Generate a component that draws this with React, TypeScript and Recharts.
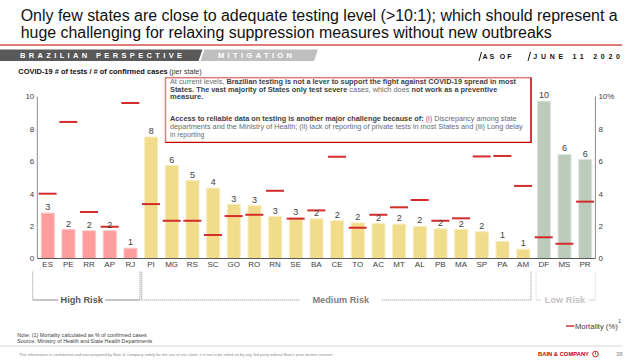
import React from "react";
import { ComposedChart, Bar, Line, XAxis, YAxis, Cell, LabelList } from "recharts";

const states = ["ES","PE","RR","AP","RJ","PI","MG","RS","SC","GO","RO","RN","SE","BA","CE","TO","AC","MT","AL","PB","MA","SP","PA","AM","DF","MS","PR"];
const testsPerCase = [2.8,1.79,1.71,1.71,0.64,7.5,5.74,4.81,4.34,3.33,3.27,2.59,2.5,2.45,2.33,2.2,2.16,2.12,1.98,1.83,1.79,1.65,1.05,0.57,9.71,6.42,6.11];
const mortality = [4.0,8.43,2.87,1.96,9.6,3.36,2.33,2.33,1.45,2.62,2.7,4.18,2.46,2.97,6.28,1.9,2.7,3.16,3.61,2.33,2.48,6.3,6.33,4.48,1.31,0.91,3.51];
const riskLevels = ["high","high","high","high","high","medium","medium","medium","medium","medium","medium","medium","medium","medium","medium","medium","medium","medium","medium","medium","medium","medium","medium","medium","low","low","low"];
const riskGroups = ["High Risk", "Medium Risk", "Low Risk"];
const leftTicks = [0, 2, 4, 6, 8, 10];
const rightTicks = [0, 2, 4, 6, 8, 10];

const riskFill: Record<string, string> = { high: "#ff9c9c", medium: "#f1dc8c", low: "#bccbbb" };
const riskStroke: Record<string, string> = { high: "#ffc4c4", medium: "#f8ecbc", low: "#dbe4da" };

const data = states.map((s, i) => ({ state: s, tests: testsPerCase[i], mortality: mortality[i], risk: riskLevels[i] }));

const FONT = "'Liberation Sans', Arial, Helvetica, sans-serif";

const boxLines: [string, boolean][][] = [
  [["At current levels, ", false], ["Brazilian testing is not a lever to support the fight against COVID-19 spread in most", true]],
  [["States. The vast majority of States only test severe", true], [" cases, which does ", false], ["not work as a preventive", true]],
  [["measure.", true]],
  [["Access to reliable data on testing is another major challenge because of:", true], [" (i) Discrepancy among state", false]],
  [["departments and the Ministry of Health; (ii) lack of reporting of private tests in most States and (iii) Long delay", false]],
  [["in reporting", false]],
];
const boxLineY = [83.5, 91.5, 99.3, 121.3, 129, 136.8];
const boxLineW = [346, 327.3, 33.3, 346.7, 352.7, 34.3];

const renderDash = (p: any) => {
  const { cx, cy, index } = p;
  if (cx == null || cy == null) return <g key={`d${index}`} />;
  return <line key={`d${index}`} x1={cx - 9} x2={cx + 9} y1={cy} y2={cy} stroke="#d42b2b" strokeWidth={2} />;
};

export default function App() {
  return (
    <div style={{ position: "absolute", left: 0, top: 0, width: 640, height: 360, background: "#fff", fontFamily: FONT }}>
      <ComposedChart
        width={640}
        height={360}
        data={data}
        margin={{ top: 96.5, right: 14.6, bottom: 86.5, left: 7.3 }}
        barSize={13}
      >
        <XAxis
          dataKey="state"
          interval={0}
          tickLine={false}
          tickSize={0}
          tickMargin={3}
          height={15}
          axisLine={{ stroke: "#595959" }}
          tick={{ fontSize: 8, fill: "#404040", fontFamily: FONT }}
        />
        <YAxis
          yAxisId="left"
          domain={[0, 10]}
          ticks={leftTicks}
          width={30}
          tickLine={false}
          tickSize={0}
          tickMargin={3}
          axisLine={{ stroke: "#8c8c8c" }}
          tick={{ fontSize: 8, fill: "#404040", fontFamily: FONT }}
        />
        <YAxis
          yAxisId="right"
          orientation="right"
          domain={[0, 10]}
          ticks={rightTicks}
          width={30}
          tickLine={false}
          tickSize={0}
          tickMargin={3}
          axisLine={{ stroke: "#8c8c8c" }}
          tickFormatter={(v: number) => (v === 10 ? "10%" : String(v))}
          tick={{ fontSize: 8, fill: "#404040", fontFamily: FONT }}
        />
        <Bar yAxisId="left" dataKey="tests" isAnimationActive={false}>
          {data.map((d, i) => (
            <Cell key={i} fill={riskFill[d.risk]} stroke={riskStroke[d.risk]} strokeWidth={1} />
          ))}
          <LabelList
            dataKey="tests"
            position="top"
            offset={3}
            formatter={(v: any) => Math.round(Number(v))}
            style={{ fontSize: 9, fill: "#404040", fontFamily: FONT }}
          />
        </Bar>
        <Line
          yAxisId="right"
          dataKey="mortality"
          stroke="none"
          dot={renderDash}
          activeDot={false}
          legendType="none"
          isAnimationActive={false}
        />
      </ComposedChart>

      <svg width={640} height={360} style={{ position: "absolute", left: 0, top: 0, pointerEvents: "none" }} fontFamily={FONT}>
        {/* Title */}
        <text x={20.7} y={20.7} fontSize={16} fill="#111" textLength={597} lengthAdjust="spacingAndGlyphs">
          Only few states are close to adequate testing level (&gt;10:1); which should represent a
        </text>
        <text x={20.7} y={37.9} fontSize={16} fill="#111" textLength={531} lengthAdjust="spacingAndGlyphs">
          huge challenging for relaxing suppression measures without new outbreaks
        </text>
        <line x1={0} x2={622} y1={45} y2={45} stroke="#e07b7b" strokeWidth={2} />

        {/* Banner */}
        <polygon points="0,49.5 202.5,49.5 198.5,61 0,61" fill="#595959" />
        <polygon points="204.5,49.5 318,49.5 314,61 200.5,61" fill="#bfbfbf" />
        <text x={20} y={58.4} fontSize={7.5} fontWeight="bold" fill="#fff" textLength={162}>BRAZILIAN PERSPECTIVE</text>
        <text x={218} y={58.4} fontSize={7.5} fontWeight="bold" fill="#fff" textLength={74}>MITIGATION</text>

        <line x1={481.5} y1={52} x2={479} y2={61} stroke="#111" strokeWidth={1} />
        <text x={482.5} y={58.6} fontSize={7} fontWeight="bold" fill="#111" textLength={29}>AS OF</text>
        <line x1={530.5} y1={52} x2={528} y2={61} stroke="#111" strokeWidth={1} />
        <text x={533.3} y={58.6} fontSize={7} fontWeight="bold" fill="#111" textLength={86.7}>JUNE 11 2020</text>

        {/* Subtitle */}
        <text x={18.3} y={73.6} fontSize={6.5} fontWeight="bold" fill="#111" textLength={149.4} lengthAdjust="spacingAndGlyphs">
          COVID-19 # of tests / # of confirmed cases
        </text>
        <text x={169.3} y={73.6} fontSize={6.5} fill="#333" textLength={32.4} lengthAdjust="spacingAndGlyphs">(per state)</text>

        {/* Annotation box */}
        <rect x={165.5} y={77.7} width={365.5} height={64.6} fill="#fff" stroke="#e07a7a" strokeWidth={1.5} />
        <line x1={531} y1={77.7} x2={531} y2={142.5} stroke="#c00000" strokeWidth={1.2} />
        <line x1={165.5} y1={142.5} x2={531.6} y2={142.5} stroke="#c00000" strokeWidth={1.2} />
        {boxLines.map((segs, li) => (
          <text key={li} x={170} y={boxLineY[li]} fontSize={6.8} fill="#6b6b6b" textLength={boxLineW[li]} lengthAdjust="spacingAndGlyphs">
            {segs.map(([t, b], si) => (
              <tspan key={si} fontWeight={b ? "bold" : "normal"} fill={b ? "#3f3f3f" : "#6b6b6b"}>{t}</tspan>
            ))}
          </text>
        ))}

        {/* Risk brackets */}
        <g stroke="#8c8c8c" strokeWidth={1} fill="none">
          <line x1={32.7} x2={32.7} y1={271.7} y2={300} strokeDasharray="1 1" />
          <line x1={32.7} x2={58} y1={300} y2={300} />
          <line x1={105} x2={140} y1={300} y2={300} />
          <line x1={140} x2={140} y1={271.7} y2={300} strokeDasharray="1 1" />
          <line x1={141.7} x2={141.7} y1={271.7} y2={300} strokeDasharray="1 1" />
          <line x1={141.7} x2={300} y1={300} y2={300} strokeDasharray="1 1" />
          <line x1={381.7} x2={531} y1={300} y2={300} strokeDasharray="1 1" />
          <line x1={531} x2={531} y1={271.7} y2={300} strokeDasharray="1 1" />
        </g>
        <g stroke="#cfcfcf" strokeWidth={1} fill="none">
          <line x1={536} x2={536} y1={271.7} y2={300} strokeDasharray="1 1" />
          <line x1={536} x2={541} y1={300} y2={300} />
          <line x1={588.7} x2={595.3} y1={300} y2={300} />
          <line x1={595.3} x2={595.3} y1={271.7} y2={300} strokeDasharray="1 1" />
        </g>
        <text x={81.7} y={302.8} fontSize={9.2} fontWeight="bold" fill="#595959" textAnchor="middle">{riskGroups[0]}</text>
        <text x={340.8} y={302.8} fontSize={9.2} fontWeight="bold" fill="#7f7f7f" textAnchor="middle">{riskGroups[1]}</text>
        <text x={565} y={302.8} fontSize={9.2} fontWeight="bold" fill="#c4c4c4" textAnchor="middle">{riskGroups[2]}</text>

        {/* Legend */}
        <line x1={566} x2={574.3} y1={326} y2={326} stroke="#e06a6a" strokeWidth={2} />
        <text x={575} y={329} fontSize={8} fill="#404040" textLength={42.7} lengthAdjust="spacingAndGlyphs">Mortality (%)</text>
        <text x={618.3} y={322.5} fontSize={5} fill="#404040">1</text>

        {/* Notes */}
        <text x={17.3} y={336.5} fontSize={5.5} fill="#404040" textLength={129.4} lengthAdjust="spacingAndGlyphs">
          Note: (1) Mortality calculated as % of confirmed cases
        </text>
        <text x={17.3} y={342.8} fontSize={5.5} fill="#404040" textLength={135} lengthAdjust="spacingAndGlyphs">
          Source: Ministry of Health and State Health Departments
        </text>
        <line x1={0} x2={622} y1={346} y2={346} stroke="#d6d6d6" strokeWidth={1} />

        {/* Footer */}
        <text x={19} y={355.5} fontSize={4} fill="#8a8a8a" textLength={313.3} lengthAdjust="spacingAndGlyphs">
          This information is confidential and was prepared by Bain &amp; Company solely for the use of our client; it is not to be relied on by any 3rd party without Bain's prior written consent
        </text>
        <text x={538} y={356} fontSize={5.5} fontWeight="bold" fill="#cc0000" textLength={51} lengthAdjust="spacingAndGlyphs">BAIN &amp; COMPANY</text>
        <circle cx={595.5} cy={354} r={2.8} fill="none" stroke="#cc0000" strokeWidth={0.9} />
        <line x1={595.5} y1={352.3} x2={595.5} y2={354.5} stroke="#cc0000" strokeWidth={0.8} />
        <text x={616} y={356.3} fontSize={6} fill="#8a8a8a">38</text>
      </svg>
    </div>
  );
}
